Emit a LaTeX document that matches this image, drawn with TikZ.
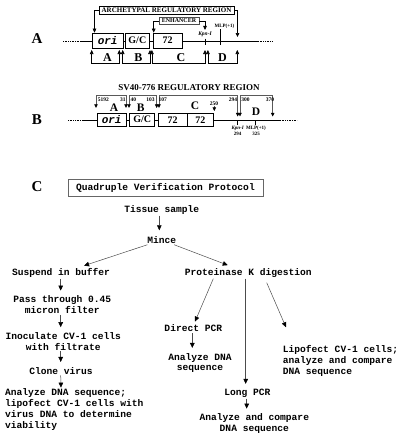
\documentclass[tikz,border=0pt]{standalone}
\usepackage{fontspec}
\setmainfont{Liberation Serif}
\newfontfamily\monof{Liberation Mono}
\usetikzlibrary{arrows.meta,calc}
\begin{document}
\begin{tikzpicture}[x=1pt,y=-1pt,
  seg/.style={draw, line width=0.7pt, fill=white, inner sep=0pt, font=\bfseries\fontsize{10}{10}\selectfont},
  orifont/.style={font=\monof\bfseries\itshape\fontsize{11}{11}\selectfont},
  panlab/.style={font=\bfseries\fontsize{15}{15}\selectfont, inner sep=0pt},
  seglab/.style={font=\bfseries\fontsize{12}{12}\selectfont, inner sep=0pt},
  seglabB/.style={font=\bfseries\fontsize{11.5}{11.5}\selectfont, inner sep=0pt},
  numlab/.style={font=\bfseries\fontsize{5.5}{5.5}\selectfont, inner sep=0pt},
  tinylab/.style={font=\bfseries\fontsize{5}{5}\selectfont, inner sep=0pt},
  capbox/.style={draw, line width=0.5pt, fill=white, inner sep=0.8pt, font=\bfseries\fontsize{7}{7}\selectfont},
  brk/.style={line width=0.6pt, arrows={Triangle[length=4pt,width=3.6pt]-Triangle[length=4pt,width=3.6pt]}},
  brkone/.style={line width=0.6pt, -{Triangle[length=4pt,width=3.6pt]}},
  brkB/.style={line width=0.5pt, draw=black!65, arrows={Triangle[length=3.6pt,width=3.4pt,black]-Triangle[length=3.6pt,width=3.4pt,black]}},
  brkBone/.style={line width=0.5pt, draw=black!65, -{Triangle[length=3.6pt,width=3.4pt,black]}},
  dnaline/.style={line width=0.7pt},
  dotline/.style={line width=0.6pt, dash pattern=on 0.8pt off 0.9pt},
  fc/.style={font=\monof\bfseries\fontsize{9.6}{10.8}\selectfont, align=center, inner sep=1pt},
  arr/.style={draw=black!70, line width=0.5pt, -{Triangle[length=5pt,width=4.6pt,black]}}
]
\useasboundingbox (0,0) rectangle (404,439);

% ---------------- Panel A ----------------
\node[panlab] (labA) at (37,39) {A};
\draw[dotline] (63,41) -- (80,41);
\draw[dnaline] (80,41) -- (258,41);
\draw[dotline] (258,41) -- (272,41);
\node[seg, orifont, minimum width=30.7pt, minimum height=15pt, anchor=west] (oriA) at (92,40.5) {ori};
\node[seg, minimum width=24pt, minimum height=15pt, anchor=west] (gcA) at (125,40.5) {G/C};
\node[seg, minimum width=29pt, minimum height=15pt, anchor=west] (sevA) at (152.7,40.5) {72};
\node[capbox, minimum width=135pt, minimum height=8pt] (arch) at (166.5,10.5) {ARCHETYPAL REGULATORY REGION};
\node[capbox, draw=black!70, line width=0.9pt, minimum width=40pt, minimum height=6.5pt, font=\bfseries\fontsize{6}{6}\selectfont] (enh) at (179,21) {ENHANCER};
\node[font=\bfseries\itshape\fontsize{5.5}{5.5}\selectfont, inner sep=0pt] (kpnA) at (205,34) {Kpn-I};
\node[tinylab] (mlpA) at (224.5,26) {MLP(+1)};
\coordinate (archR) at (237.5,37);
\draw[brkone] (arch.west) -| ([xshift=2.5pt]oriA.north west);
\draw[brkone] (arch.east) -| (archR);
\draw[brkone] (enh.west) -| ([xshift=1pt]sevA.north west);
\draw[brkone] (enh.east) -| ([yshift=1.5pt]kpnA.north);
\draw[line width=0.6pt] (205,38.5) -- (205,45);
\draw[line width=0.6pt] (220.7,29) -- (220.7,45);
% bottom brackets
\draw[brk] (91.7,50) -- (91.7,63) -- (119.3,63) -- (119.3,50);
\draw[brk] (122.7,50) -- (122.7,63) -- (150,63) -- (150,50);
\draw[brk] (151.9,50) -- (151.9,63) -- (205,63) -- (205,50);
\draw[brk] (207.9,50) -- (207.9,63) -- (237.3,63) -- (237.3,50);
\node[seglab] (sA) at (107.5,57.5) {A};
\node[seglab] (sB) at (138.3,57.5) {B};
\node[seglab] (sC) at (181,57.5) {C};
\node[seglab] (sD) at (222.5,57.5) {D};

% ---------------- Panel B ----------------
\node[font=\bfseries\fontsize{9}{9}\selectfont, inner sep=0pt] (titleB) at (189,88) {SV40-776 REGULATORY REGION};
\node[panlab] (labB) at (37,120) {B};
\draw[dotline] (68,120) -- (84,120);
\draw[dnaline] (84,120) -- (280,120);
\draw[dotline] (280,120) -- (297,120);
\node[seg, orifont, minimum width=29.3pt, minimum height=13.3pt, anchor=west] (oriB) at (96.7,119.7) {ori};
\node[seg, minimum width=25pt, minimum height=13.3pt, anchor=west] (gcB) at (129.3,119.7) {G/C};
\node[seg, minimum width=29pt, minimum height=13.3pt, anchor=west] (sevB1) at (157.7,119.7) {72};
\node[seg, minimum width=26.6pt, minimum height=13.3pt, anchor=west] (sevB2) at (186.7,119.7) {72};
\draw[brkB] (96,108) -- (96,95.5) -- (126,95.5) -- (126,108);
\draw[brkB] (129,108) -- (129,95.5) -- (156.7,95.5) -- (156.7,108);
\draw[brkB] (159,108) -- (159,95.5) -- (237.7,95.5) -- (237.7,116.5);
\draw[brkB] (240,116.5) -- (240,95.5) -- (272.7,95.5) -- (272.7,116.5);
\draw[brkBone] (214.3,105.8) -- (214.3,111);
\node[numlab] (n5192) at (103.3,99.5) {5192};
\node[numlab] (n31) at (122.8,99.5) {31};
\node[numlab] (n40) at (133.3,99.5) {40};
\node[numlab] (n103) at (150.5,99.5) {103};
\node[numlab] (n107) at (162.8,99.5) {107};
\node[numlab] (n250) at (214,103.2) {250};
\node[numlab] (n294) at (233,99.5) {294};
\node[numlab] (n300) at (245.5,99.5) {300};
\node[numlab] (n370) at (270,99.5) {370};
\node[seglabB] (bA) at (114,107.5) {A};
\node[seglabB] (bB) at (140.7,107.5) {B};
\node[seglabB] (bC) at (195,106) {C};
\node[seglabB] (bD) at (256,111.3) {D};
\draw[line width=0.6pt] (237.7,120) -- (237.7,125);
\draw[line width=0.6pt] (255.7,120) -- (255.7,125);
\node[font=\bfseries\itshape\fontsize{5}{5}\selectfont, inner sep=0pt] (kpnB) at (237.7,128.3) {Kpn-I};
\node[tinylab] (kpnN) at (237.7,133.5) {294};
\node[tinylab] (mlpB) at (256,128.3) {MLP(+1)};
\node[tinylab] (mlpN) at (256,133.5) {325};

% ---------------- Panel C ----------------
\node[panlab] (labC) at (37,187) {C};
\node[fc, draw=black!60, line width=0.8pt, minimum width=195pt, minimum height=17pt] (quad) at (165.5,187.5) {Quadruple Verification Protocol};
\node[fc] (tissue) at (161.7,210) {Tissue sample};
\node[fc] (mince) at (161.7,240) {Mince};
\node[fc] (suspend) at (61,273.3) {Suspend in buffer};
\node[fc] (prot) at (248.3,273) {Proteinase K digestion};
\node[fc] (pass) at (62.3,304.7) {Pass through 0.45\\micron filter};
\node[fc] (inoc) at (63.3,341.3) {Inoculate CV-1 cells\\with filtrate};
\node[fc] (clone) at (61,370.7) {Clone virus};
\node[fc, align=left, anchor=west] (an1) at (4,409.5) {Analyze DNA sequence;\\lipofect CV-1 cells with\\virus DNA to determine\\viability};
\node[fc] (direct) at (193.3,328.3) {Direct PCR};
\node[fc] (an2) at (200,363) {Analyze DNA\\sequence};
\node[fc, align=left, anchor=west] (lipo) at (281.7,360.8) {Lipofect CV-1 cells;\\analyze and compare\\DNA sequence};
\node[fc] (long) at (247.3,393.3) {Long PCR};
\node[fc] (an3) at (254.3,423.7) {Analyze and compare\\DNA sequence};

\draw[arr] ([xshift=-2.4pt]tissue.south) -- ([xshift=-2.4pt,yshift=5pt]mince.north);
\draw[arr, shorten >=6pt] (mince) -- (suspend);
\draw[arr, shorten >=6pt] (mince) -- (prot);
\draw[arr] ([xshift=-0.3pt]suspend.south) -- ([xshift=-1.6pt,yshift=4pt]pass.north);
\draw[arr] ([xshift=-1.6pt]pass.south) -- ([xshift=-2.6pt,yshift=4pt]inoc.north);
\draw[arr] ([xshift=-2.6pt]inoc.south) -- ([xshift=-0.3pt,yshift=4pt]clone.north);
\draw[arr] ([xshift=-0.3pt]clone.south) -- (an1.north -| clone.south);
\draw[arr] ([xshift=-35pt]prot.south) -- ([xshift=1.7pt,yshift=2pt]direct.north);
\draw[arr] ([xshift=-1.6pt]long.north |- prot.south) -- ([xshift=-1.6pt,yshift=4pt]long.north);
\draw[arr] ([xshift=18.4pt,yshift=-4pt]prot.south) -- ([xshift=4.3pt,yshift=17pt]lipo.north west);
\draw[arr] ([xshift=-1pt]direct.south) -- ([xshift=-7.7pt,yshift=4pt]an2.north);
\draw[arr] ([xshift=-0.6pt]long.south) -- ([xshift=-7.6pt,yshift=4pt]an3.north);
\end{tikzpicture}
\end{document}
